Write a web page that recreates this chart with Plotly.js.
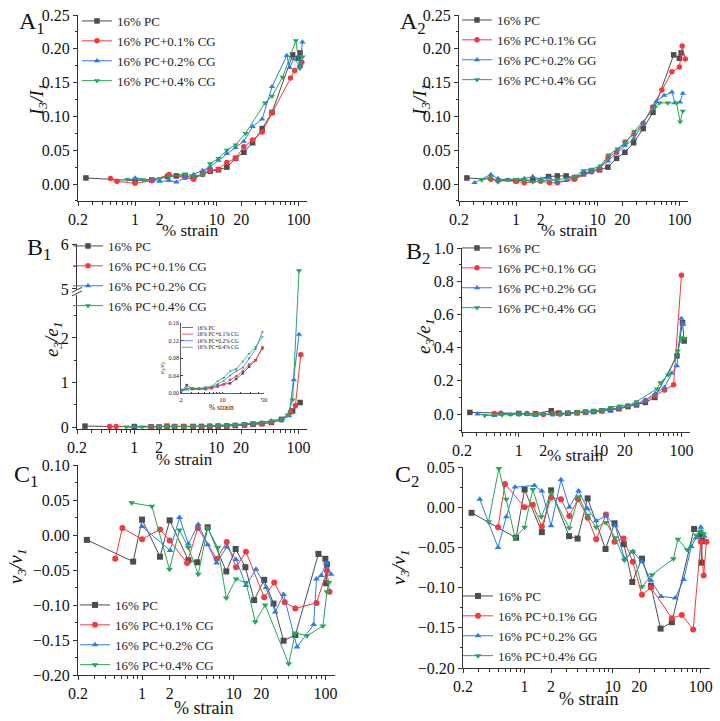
<!DOCTYPE html>
<html><head><meta charset="utf-8">
<script src="https://cdn.plot.ly/plotly-3.0.1.min.js"></script>
<style>body{margin:0;background:#fff}#plot{width:720px;height:721px}</style>
</head><body><div id="plot"></div>
<script>
// ================= DATA =================
const namesCG = ['16% PC','16% PC+0.1% CG','16% PC+0.2% CG','16% PC+0.4% CG'];
const namesGG = ['16% PC','16% PC+0.1% GG','16% PC+0.2% GG','16% PC+0.4% GG'];
const xTickVals = [0.2, 1, 2, 10, 20, 100];
const xTickText = ['0.2', '1', '2', '10', '20', '100'];

// ---- I3/I1 (A panels) ----
const aPcX = [0.25, 1.0, 1.6, 2.5, 3.2, 4.1, 5.2, 6.7, 8.3, 10.5, 13.3, 17, 21.5, 27.5, 36, 47.5, 85, 100, 105];
const aPcY = [0.009, 0.005, 0.006, 0.011, 0.012, 0.012, 0.009, 0.015, 0.019, 0.021, 0.025, 0.038, 0.047, 0.061, 0.082, 0.106, 0.191, 0.186, 0.194];
const a1Cg01X = [0.5, 0.6, 1.0, 1.6, 2.6, 4.1, 5.2, 6.7, 8.3, 10.5, 13.3, 17, 21.4, 27.5, 36, 47.5, 80, 90, 105, 110];
const a1Cg01Y = [0.008, 0.004, 0.001, 0.005, 0.014, 0.010, 0.007, 0.015, 0.020, 0.022, 0.032, 0.038, 0.055, 0.065, 0.077, 0.105, 0.157, 0.168, 0.175, 0.180];
const a1Cg02X = [1.0, 2.0, 2.6, 3.2, 4.1, 5.2, 6.7, 8.3, 10.5, 13.3, 17, 21.4, 27.5, 36, 47.5, 72, 78, 88, 104, 112];
const a1Cg02Y = [0.009, 0.004, 0.005, 0.003, 0.009, 0.014, 0.020, 0.025, 0.035, 0.045, 0.054, 0.063, 0.085, 0.096, 0.144, 0.190, 0.172, 0.185, 0.175, 0.210];
const a1Cg04X = [0.8, 1.26, 2.0, 2.6, 4.1, 5.2, 6.7, 8.3, 10.5, 13.3, 17, 22.5, 39, 47.5, 64, 93, 104, 112];
const a1Cg04Y = [0.007, 0.006, 0.008, 0.011, 0.015, 0.012, 0.013, 0.030, 0.038, 0.050, 0.058, 0.075, 0.120, 0.130, 0.158, 0.212, 0.171, 0.188];
const a2Gg01X = [0.49, 0.6, 1.0, 1.26, 2.0, 2.56, 3.2, 5.2, 8.4, 10.6, 13.4, 17, 21.6, 27.7, 36, 47, 61, 81, 100, 108, 118];
const a2Gg01Y = [0.007, 0.005, 0.004, 0.002, 0.004, 0.002, 0.002, 0.007, 0.018, 0.022, 0.040, 0.047, 0.062, 0.074, 0.090, 0.114, 0.139, 0.166, 0.173, 0.204, 0.185];
const a2Gg02X = [0.31, 0.49, 0.6, 0.79, 1.26, 1.6, 2.0, 2.56, 3.2, 4.1, 5.2, 6.6, 8.4, 10.6, 13.4, 17, 21.6, 27.7, 36, 52, 65, 81, 88, 102, 110];
const a2Gg02Y = [0.002, 0.014, 0.008, 0.006, 0.008, 0.011, 0.007, 0.009, 0.003, 0.005, 0.011, 0.014, 0.018, 0.025, 0.034, 0.046, 0.057, 0.067, 0.090, 0.122, 0.131, 0.136, 0.120, 0.121, 0.134];
const a2Gg04X = [0.38, 0.49, 0.6, 0.79, 1.0, 1.26, 1.6, 2.0, 3.2, 5.2, 6.7, 8.5, 10.8, 13.6, 17.4, 22, 28, 50, 57, 72, 92, 102, 110];
const a2Gg04Y = [0.006, 0.011, 0.003, 0.007, 0.007, 0.006, 0.003, 0.005, 0.006, 0.011, 0.020, 0.022, 0.027, 0.043, 0.052, 0.062, 0.078, 0.113, 0.120, 0.120, 0.120, 0.092, 0.108];

// ---- e3/e1 (B panels) ----
const b1PcX = [0.25, 1.0, 1.6, 2.0, 2.5, 3.1, 4.0, 5.2, 6.6, 8.3, 10.5, 13.4, 17, 22, 28, 36, 47, 62, 85, 105];
const b1PcY = [0.02, 0.01, 0.005, 0.0, 0.018, 0.01, 0.01, 0.012, 0.012, 0.015, 0.02, 0.022, 0.032, 0.045, 0.06, 0.075, 0.102, 0.17, 0.36, 0.55];
const b1Cg01X = [0.5, 0.6, 1.6, 2.0, 2.5, 3.1, 4.0, 5.2, 6.6, 8.3, 10.5, 13.4, 17, 22, 28, 36, 47, 62, 80, 92, 107];
const b1Cg01Y = [0.01, 0.01, 0.005, 0.006, 0.01, 0.009, 0.01, 0.008, 0.01, 0.017, 0.02, 0.03, 0.038, 0.05, 0.065, 0.075, 0.105, 0.16, 0.33, 0.48, 1.62];
const b1Cg02X = [1.0, 2.0, 3.1, 4.0, 5.2, 6.6, 8.3, 10.5, 13.4, 17, 22, 28, 36, 47, 62, 77, 88, 102];
const b1Cg02Y = [0.01, 0.005, 0.008, 0.008, 0.01, 0.014, 0.02, 0.028, 0.04, 0.05, 0.058, 0.08, 0.1, 0.14, 0.18, 0.25, 1.06, 2.08];
const b1Cg04X = [0.8, 1.25, 2.0, 2.5, 3.1, 4.0, 5.2, 6.6, 8.3, 10.5, 13.4, 17, 22, 28, 36, 47, 64, 74, 85, 102];
const b1Cg04Y = [0.0, 0.0, 0.008, 0.01, 0.012, 0.01, 0.012, 0.015, 0.027, 0.035, 0.05, 0.055, 0.072, 0.09, 0.105, 0.128, 0.16, 0.27, 0.61, 5.41];
const b2PcX = [0.25, 1.0, 1.6, 2.5, 3.1, 4.0, 5.2, 6.6, 8.3, 10.5, 13.4, 17, 22, 28, 36, 47, 88, 103, 108];
const b2PcY = [0.01, 0.004, 0.002, 0.02, 0.006, 0.005, 0.008, 0.012, 0.015, 0.02, 0.025, 0.032, 0.045, 0.055, 0.07, 0.1, 0.35, 0.55, 0.44];
const b2Gg01X = [0.5, 0.6, 1.0, 1.26, 1.6, 2.0, 2.6, 3.2, 4.1, 5.2, 6.6, 8.4, 10.6, 13.4, 17, 22, 28, 36, 47, 62, 80, 100];
const b2Gg01Y = [0.003, 0.005, 0.002, 0.004, 0.0, -0.002, 0.002, 0.0, 0.005, 0.008, 0.01, 0.015, 0.02, 0.03, 0.035, 0.05, 0.06, 0.08, 0.11, 0.145, 0.176, 0.836];
const b2Gg02X = [0.31, 0.5, 0.62, 0.79, 1.0, 1.26, 1.6, 2.0, 2.6, 3.2, 4.1, 5.2, 6.6, 8.4, 10.6, 13.4, 17, 22, 28, 36, 48, 62, 76, 88, 100, 105];
const b2Gg02Y = [0.0, -0.01, 0.003, -0.002, 0.002, -0.003, -0.01, 0.0, -0.005, 0.0, 0.005, 0.008, 0.01, 0.015, 0.02, 0.025, 0.035, 0.05, 0.06, 0.085, 0.125, 0.16, 0.246, 0.29, 0.576, 0.54];
const b2Gg04X = [0.38, 0.5, 0.62, 0.79, 1.0, 1.26, 1.6, 2.0, 3.2, 4.1, 5.2, 6.6, 8.4, 10.8, 13.6, 17.4, 22, 28, 50, 55, 69, 90, 100, 109];
const b2Gg04Y = [-0.008, -0.004, -0.005, -0.003, 0.0, 0.002, -0.003, 0.0, -0.003, 0.005, 0.01, 0.015, 0.018, 0.025, 0.04, 0.05, 0.05, 0.075, 0.152, 0.19, 0.236, 0.38, 0.46, 0.456];

// ---- v3/v1 (C panels) ----
const cPcX = [0.25, 0.8, 1.0, 1.57, 2.0, 3.2, 4.0, 5.2, 8.3, 10.5, 13.4, 16.7, 21.5, 27.2, 35, 47, 84, 100, 102, 104];
const cPcY = [-0.007, -0.038, 0.022, -0.031, 0.021, -0.036, -0.039, 0.011, -0.052, -0.020, -0.046, -0.093, -0.064, -0.098, -0.151, -0.143, -0.027, -0.034, -0.069, -0.042];
const c1Cg01X = [0.51, 0.61, 1.0, 1.57, 2.0, 3.1, 4.06, 6.5, 8.4, 10.6, 13.6, 21.5, 27.7, 36, 47, 80, 104, 111];
const c1Cg01Y = [-0.034, 0.010, -0.006, 0.008, -0.008, -0.040, 0.010, -0.034, -0.010, -0.046, -0.024, -0.089, -0.068, -0.096, -0.105, -0.097, -0.051, -0.081];
const c1Cg02X = [1.0, 2.02, 2.56, 3.2, 4.1, 5.2, 6.5, 8.4, 10.6, 13.6, 17.5, 22.5, 28.4, 35, 49, 74.5, 80, 90, 102, 115];
const c1Cg02Y = [0.012, -0.022, 0.025, -0.013, 0.015, -0.014, -0.040, -0.017, -0.035, -0.072, -0.049, -0.075, -0.110, -0.085, -0.160, -0.128, -0.063, -0.058, -0.040, -0.056];
const c1Cg04X = [0.77, 1.28, 1.99, 2.56, 3.2, 4.1, 5.2, 6.7, 8.3, 10.6, 13.6, 17.2, 22, 39.8, 47, 63, 94, 104, 109];
const c1Cg04Y = [0.046, 0.041, -0.049, 0.007, -0.018, -0.056, 0.010, -0.018, -0.090, -0.063, -0.068, -0.124, -0.100, -0.184, -0.140, -0.144, -0.130, -0.081, -0.068];
const c2Gg01X = [0.5, 0.6, 1.0, 1.24, 1.57, 2.0, 2.59, 3.22, 4.04, 5.2, 6.5, 8.4, 10.5, 13.3, 16.9, 21.5, 27.2, 47, 61, 82, 100, 108, 116];
const c2Gg01Y = [-0.025, 0.029, 0.000, 0.003, -0.024, 0.012, 0.010, -0.011, 0.010, -0.013, -0.040, -0.009, -0.043, -0.039, -0.068, -0.109, -0.100, -0.138, -0.134, -0.152, -0.043, -0.085, -0.043];
const c2Gg02X = [0.31, 0.5, 0.62, 0.78, 1.29, 1.57, 2.0, 2.59, 3.22, 4.11, 5.2, 6.5, 8.4, 10.7, 13.6, 16.9, 21.5, 27.2, 35.4, 51.5, 64, 78, 89, 100, 110];
const c2Gg02Y = [0.010, -0.050, -0.012, 0.025, 0.027, 0.020, -0.023, 0.034, 0.000, 0.020, -0.002, -0.017, -0.011, -0.023, -0.064, -0.055, -0.068, -0.091, -0.111, -0.113, -0.090, -0.049, -0.038, -0.025, -0.036];
const c2Gg04X = [0.39, 0.51, 0.62, 0.78, 1.0, 1.24, 1.55, 2.0, 3.22, 4.1, 5.2, 6.5, 8.4, 10.7, 13.6, 16.9, 21.5, 28, 49, 55, 70, 89, 100, 108];
const c2Gg04Y = [-0.018, 0.048, 0.010, -0.038, -0.025, 0.022, -0.012, 0.018, -0.026, 0.013, -0.010, -0.025, -0.019, -0.038, -0.066, -0.055, -0.099, -0.084, -0.064, -0.040, -0.053, -0.035, -0.030, -0.033];

// ================= STYLE / LAYOUT =================
const W = 720, H = 721;
const FONT = 'Liberation Serif';
const colors = ['#4d4d4d', '#f2393b', '#2d7be8', '#27a55a'];
const symbols = ['square', 'circle', 'triangle-up', 'triangle-down'];
const AX = '#333333';
const TICKSIZE = 16;

const minorX = [0.3,0.4,0.5,0.6,0.7,0.8,0.9,3,4,5,6,7,8,9,30,40,50,60,70,80,90];

function dom(a, b, size) { return [a / size, b / size]; }
function ydom(top, bot) { return [1 - bot / H, 1 - top / H]; }

function xAxisCfg(l, r, anchor) {
  return {
    type: 'log', range: [Math.log10(0.2), 2.105], domain: dom(l, r, W), anchor: anchor,
    tickmode: 'array', tickvals: xTickVals, ticktext: xTickText,
    ticks: 'outside', ticklen: 4, tickwidth: 1, tickcolor: AX,
    minor: {tickmode: 'array', tickvals: minorX, ticks: 'outside', ticklen: 2.5, tickwidth: 1, tickcolor: AX, showgrid: false},
    showline: true, linecolor: AX, linewidth: 1, showgrid: false, zeroline: false,
    tickfont: {family: FONT, size: TICKSIZE, color: '#111'}
  };
}
function yAxisCfg(top, bot, range, dtick, fmt, minorD, anchor) {
  const c = {
    range: range, domain: ydom(top, bot), anchor: anchor,
    tick0: 0, dtick: dtick, tickformat: fmt,
    ticks: 'outside', ticklen: 4, tickwidth: 1, tickcolor: AX,
    showline: true, linecolor: AX, linewidth: 1, showgrid: false, zeroline: false,
    tickfont: {family: FONT, size: TICKSIZE, color: '#111'}
  };
  if (minorD) c.minor = {dtick: minorD, ticks: 'outside', ticklen: 2.5, tickwidth: 1, tickcolor: AX, showgrid: false};
  return c;
}

const traces = [];
function addGroup(xs, ys, names, xa, ya, legendId, showLegend, msize, lw, ytf) {
  for (let i = 0; i < 4; i++) {
    traces.push({
      type: 'scatter', mode: 'lines+markers', x: xs[i], y: ytf ? ys[i].map(ytf) : ys[i],
      name: names[i], xaxis: xa, yaxis: ya, legend: legendId, showlegend: showLegend,
      line: {color: colors[i], width: lw},
      marker: {color: colors[i], symbol: symbols[i], size: msize}
    });
  }
}

// B1 broken axis: values above the break are shifted down by the cut-out span
const breakLow = 3.0, breakHigh = 4.9;
function brk(v) { return v >= breakHigh ? v - (breakHigh - breakLow) : v; }

addGroup([aPcX, a1Cg01X, a1Cg02X, a1Cg04X], [aPcY, a1Cg01Y, a1Cg02Y, a1Cg04Y], namesCG, 'x', 'y', 'legend', true, 5.5, 1);
addGroup([aPcX, a2Gg01X, a2Gg02X, a2Gg04X], [aPcY, a2Gg01Y, a2Gg02Y, a2Gg04Y], namesGG, 'x2', 'y2', 'legend2', true, 5.5, 1);
addGroup([b1PcX, b1Cg01X, b1Cg02X, b1Cg04X], [b1PcY, b1Cg01Y, b1Cg02Y, b1Cg04Y], namesCG, 'x3', 'y3', 'legend3', true, 5.5, 1, brk);
addGroup([b2PcX, b2Gg01X, b2Gg02X, b2Gg04X], [b2PcY, b2Gg01Y, b2Gg02Y, b2Gg04Y], namesGG, 'x4', 'y4', 'legend4', true, 5.5, 1);
addGroup([cPcX, c1Cg01X, c1Cg02X, c1Cg04X], [cPcY, c1Cg01Y, c1Cg02Y, c1Cg04Y], namesCG, 'x5', 'y5', 'legend5', true, 6, 1);
addGroup([cPcX, c2Gg01X, c2Gg02X, c2Gg04X], [cPcY, c2Gg01Y, c2Gg02Y, c2Gg04Y], namesGG, 'x6', 'y6', 'legend6', true, 6, 1);
// inset: the B1 data in the 2-50 % strain window
const insetXs = [b1PcX, b1Cg01X, b1Cg02X, b1Cg04X];
const insetYs = [b1PcY, b1Cg01Y, b1Cg02Y, b1Cg04Y];
const insX = insetXs.map(a => a.filter(v => v >= 2 && v <= 50));
const insY = insetYs.map((a, i) => a.filter((v, j) => insetXs[i][j] >= 2 && insetXs[i][j] <= 50));
addGroup(insX, insY, namesCG, 'x7', 'y7', 'legend', false, 2.5, 0.8);

const legendBase = {font: {family: FONT, size: 13, color: '#222'}, bgcolor: 'rgba(0,0,0,0)', borderwidth: 0,
  xanchor: 'left', yanchor: 'top', itemwidth: 30, tracegroupgap: 0};
function leg(lpx, tpx) { return Object.assign({}, legendBase, {x: lpx / W, y: 1 - tpx / H}); }

const layout = {
  width: W, height: H, margin: {l: 0, r: 0, t: 0, b: 0},
  paper_bgcolor: '#fff', plot_bgcolor: 'rgba(0,0,0,0)',
  font: {family: FONT, color: '#111'},
  xaxis: xAxisCfg(78, 307, 'y'),
  yaxis: yAxisCfg(15, 201, [-0.0251, 0.25], 0.05, '.2f', 0.025, 'x'),
  xaxis2: xAxisCfg(459, 688, 'y2'),
  yaxis2: yAxisCfg(15, 201, [-0.0251, 0.25], 0.05, '.2f', 0.025, 'x2'),
  xaxis3: xAxisCfg(77, 307, 'y3'),
  yaxis3: Object.assign(yAxisCfg(244, 429, [-0.045, 4.11], 1, '', null, 'x3'),
    {tickmode: 'array', tickvals: [0, 1, 2, brk(5), brk(6)], ticktext: ['0', '1', '2', '5', '6'],
     minor: {tickmode: 'array', tickvals: [0.5, 1.5, 2.5, brk(5.5)], ticks: 'outside', ticklen: 2.5, tickwidth: 1, tickcolor: AX, showgrid: false}}),
  xaxis4: xAxisCfg(462, 690, 'y4'),
  yaxis4: yAxisCfg(248, 432, [-0.108, 1.0], 0.2, '.1f', 0.1, 'x4'),
  xaxis5: xAxisCfg(78, 335, 'y5'),
  yaxis5: yAxisCfg(465, 675, [-0.2, 0.1], 0.05, '.2f', 0.025, 'x5'),
  xaxis6: xAxisCfg(463, 710, 'y6'),
  yaxis6: yAxisCfg(467, 668, [-0.2, 0.05], 0.05, '.2f', 0.025, 'x6'),
  xaxis7: {type: 'log', range: [Math.log10(2), Math.log10(50)], domain: dom(181, 264, W), anchor: 'y7',
    tickmode: 'array', tickvals: [2, 10, 50], ticktext: ['2', '10', '50'],
    ticks: 'inside', ticklen: 1.5, tickcolor: AX,
    minor: {tickmode: 'array', tickvals: [3,4,5,6,7,8,9,20,30,40], ticks: 'inside', ticklen: 1, tickcolor: AX},
    showline: true, linecolor: AX, linewidth: 0.8, showgrid: false, zeroline: false,
    tickfont: {family: FONT, size: 6.5, color: '#222'}},
  yaxis7: {range: [0, 0.16], domain: ydom(323, 393), anchor: 'x7', dtick: 0.04, tickformat: '.2f',
    ticks: 'inside', ticklen: 1.5, tickcolor: AX,
    showline: true, linecolor: AX, linewidth: 0.8, showgrid: false, zeroline: false,
    tickfont: {family: FONT, size: 6, color: '#222'}},
  legend: leg(77, 6),
  legend2: leg(457, 5),
  legend3: leg(68, 231),
  legend4: leg(457, 233),
  legend5: leg(75, 590),
  legend6: leg(458, 581),
  annotations: [],
  shapes: []
};

// text labels (panel letters, axis titles)
function ann(text, xpx, ypx, size, opts) {
  layout.annotations.push(Object.assign({text: text, x: xpx / W, y: 1 - ypx / H, xref: 'paper', yref: 'paper',
    xanchor: 'center', yanchor: 'middle', showarrow: false,
    font: {family: FONT, size: size, color: '#111'}}, opts || {}));
}
ann('A<sub>1</sub>', 32, 23, 24);
ann('A<sub>2</sub>', 413, 23, 24);
ann('B<sub>1</sub>', 39, 249, 24);
ann('B<sub>2</sub>', 418, 253, 24);
ann('C<sub>1</sub>', 26, 476, 24);
ann('C<sub>2</sub>', 407, 476, 24);
const yT = {textangle: -90};
ann('<i>I<sub>3</sub>/I<sub>1</sub></i>', 38, 100, 19, yT);
ann('<i>I<sub>3</sub>/I<sub>1</sub></i>', 421, 100, 19, yT);
ann('<i>e<sub>3</sub>/e<sub>1</sub></i>', 53, 340, 19, yT);
ann('<i>e<sub>3</sub>/e<sub>1</sub></i>', 425, 337, 19, yT);
ann('<i>v<sub>3</sub>/v<sub>1</sub></i>', 17, 567, 19, yT);
ann('<i>v<sub>3</sub>/v<sub>1</sub></i>', 400, 568, 19, yT);
ann('% strain', 190, 230, 17);
ann('% strain', 569, 230, 17);
ann('% strain', 185, 459, 17);
ann('% strain', 575, 455, 17);
ann('% strain', 203, 708, 18);
ann('% strain', 588, 699, 18);
// inset titles
ann('% strain', 221, 407, 7.5);
ann('<i>e<sub>3</sub>/e<sub>1</sub></i>', 162, 368, 6.5, yT);

// inset legend (hand-built: plotly legend rows are too tall for this size)
const insLegLeft = 182, insLegTop = 327.5, insLegStep = 6.6;
namesCG.forEach((n, i) => {
  const yy = insLegTop + i * insLegStep;
  layout.shapes.push({type: 'line', xref: 'paper', yref: 'paper', x0: insLegLeft / W, x1: (insLegLeft + 11) / W,
    y0: 1 - yy / H, y1: 1 - yy / H, line: {color: colors[i], width: 0.8}});
  ann(n, insLegLeft + 13, yy, 5.5, {xanchor: 'left'});
});

// axis-break mark on B1 y axis
layout.shapes.push({type: 'rect', xref: 'x3 domain', yref: 'y3', xsizemode: 'pixel', xanchor: 0,
  x0: -3, x1: 3, y0: breakLow - 0.03, y1: breakLow + 0.09, fillcolor: '#fff', line: {width: 0}, layer: 'above'});
[0, 0.08].forEach(off => {
  layout.shapes.push({type: 'line', xref: 'x3 domain', yref: 'y3', xsizemode: 'pixel', xanchor: 0,
    ysizemode: 'pixel', yanchor: breakLow + off, x0: -5, x1: 5, y0: -2.5, y1: 2.5,
    line: {color: AX, width: 1}, layer: 'above'});
});

Plotly.newPlot('plot', traces, layout, {staticPlot: true, displayModeBar: false});
</script>
</body></html>
